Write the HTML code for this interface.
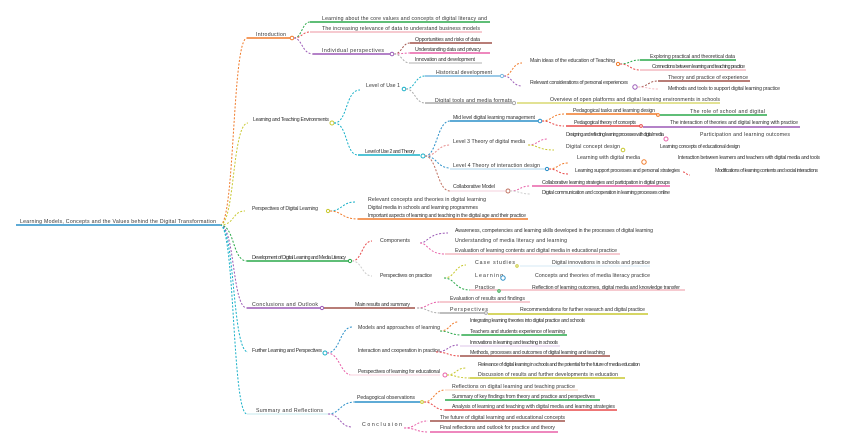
<!DOCTYPE html>
<html><head><meta charset="utf-8"><style>
html,body{margin:0;padding:0;background:#fff;width:848px;height:448px;overflow:hidden}
svg text{font-family:"Liberation Sans",sans-serif;font-size:5.2px;fill:#333}
.c{fill:none;stroke-dasharray:2 1.6;stroke-width:1}
.u{stroke-width:1.6;fill:none}
.o{fill:#fff;stroke-width:1}
</style></head><body>
<svg width="848" height="448" viewBox="0 0 848 448" xmlns="http://www.w3.org/2000/svg">
<!-- root -->
<text x="20" y="223" textLength="196">Learning Models, Concepts and the Values behind the Digital Transformation</text>
<line class="u" x1="16" y1="225" x2="220" y2="225" stroke="#2a8fc8"/>
<!-- root connectors -->
<path class="c" d="M220 225 C235 225,232 38,247 38" stroke="#f07a2a" stroke-width="1.6" stroke-dasharray="4 3"/>
<path class="c" d="M220 225 C235 225,232 123,248 123" stroke="#c8c830"/>
<path class="c" d="M220 225 C235 225,232 211,245 211" stroke="#c8c830"/>
<path class="c" d="M220 225 C235 225,232 261,247 261" stroke="#2aa84a"/>
<path class="c" d="M220 225 C235 225,232 308,247 308" stroke="#9b59b6"/>
<path class="c" d="M220 225 C235 225,232 352,248 352" stroke="#18b0c8"/>
<path class="c" d="M220 225 C235 225,232 414,247 414" stroke="#18b0c8" stroke-width="1.6" stroke-dasharray="4 3"/>

<!-- Intro -->
<text x="256" y="36" textLength="30">Introduction</text>
<line class="u" x1="247" y1="38" x2="290" y2="38" stroke="#f07a2a"/>
<circle class="o" cx="292" cy="38" r="1.8" stroke="#f07a2a"/>
<path class="c" d="M294 38 C302 38,302 22,310 22" stroke="#2aa84a"/>
<path class="c" d="M294 38 C302 38,302 32,310 32" stroke="#e84a4a"/>
<path class="c" d="M294 38 C302 38,302 54,313 54" stroke="#9b59b6"/>
<text x="322" y="20" textLength="165">Learning about the core values and concepts of digital literacy and</text>
<line class="u" x1="310" y1="22" x2="490" y2="22" stroke="#2aa84a"/>
<text x="322" y="30" textLength="158">The increasing relevance of data to understand business models</text>
<line class="u" x1="310" y1="32" x2="482" y2="32" stroke="#f4b8c0"/>
<text x="322" y="52" textLength="62">Individual perspectives</text>
<line class="u" x1="313" y1="54" x2="390" y2="54" stroke="#9b59b6"/>
<circle class="o" cx="392" cy="54" r="1.8" stroke="#9b59b6"/>
<path class="c" d="M394 54 C402 54,402 43,410 43" stroke="#a0524a"/>
<path class="c" d="M394 54 C402 54,402 53,410 53" stroke="#e860a8"/>
<path class="c" d="M394 54 C402 54,402 63,410 63" stroke="#aaa"/>
<text x="415" y="41" textLength="65">Opportunities and risks of data</text>
<line class="u" x1="410" y1="43" x2="492" y2="43" stroke="#a0524a"/>
<text x="415" y="51" textLength="66">Understanding data and privacy</text>
<line class="u" x1="410" y1="53" x2="490" y2="53" stroke="#e860a8"/>
<text x="415" y="61" textLength="60">Innovation and development</text>
<line class="u" x1="410" y1="63" x2="482" y2="63" stroke="#ccc"/>

<!-- Branch 2 -->
<text x="253" y="121" textLength="76">Learning and Teaching Environments</text>
<circle class="o" cx="332" cy="123" r="2" stroke="#c8c830"/>
<path class="c" d="M334 123 C348 123,345 90,360 90" stroke="#18b0c8"/>
<path class="c" d="M334 123 C348 123,345 155,358 155" stroke="#18b0c8"/>
<text x="366" y="87" textLength="34">Level of Use 1</text>
<circle class="o" cx="404" cy="89" r="1.8" stroke="#18b0c8"/>
<path class="c" d="M406 89 C415 89,415 76,425 76" stroke="#18b0c8"/>
<path class="c" d="M406 89 C415 89,415 103,425 103" stroke="#aaa"/>
<text x="436" y="74" textLength="56">Historical development</text>
<line class="u" x1="425" y1="76" x2="500" y2="76" stroke="#7ab8e0"/>
<circle class="o" cx="502" cy="76" r="1.6" stroke="#7ab8e0"/>
<path class="c" d="M504 76 C512 76,512 63,522 63" stroke="#f07a2a"/>
<path class="c" d="M504 76 C512 76,512 86,522 86" stroke="#9b59b6"/>
<text x="530" y="62" textLength="85">Main ideas of the education of Teaching</text>
<circle class="o" cx="618" cy="64" r="1.6" stroke="#f07a2a"/>
<path class="c" d="M620 64 C630 64,630 60,640 60" stroke="#2aa84a"/>
<path class="c" d="M620 64 C630 64,630 70,640 70" stroke="#e84a4a"/>
<text x="650" y="58" textLength="85">Exploring practical and theoretical data</text>
<line class="u" x1="640" y1="60" x2="736" y2="60" stroke="#2aa84a"/>
<text x="652" y="68" textLength="93">Connections between learning and teaching practice</text>
<line class="u" x1="640" y1="70" x2="746" y2="70" stroke="#f4b8c0"/>
<text x="530" y="84" textLength="98">Relevant considerations of personal experiences</text>
<circle class="o" cx="635" cy="87" r="2.2" stroke="#9b59b6"/>
<path class="c" d="M638 87 C648 87,648 81,658 81" stroke="#a0524a"/>
<path class="c" d="M638 87 C648 87,648 89,658 89" stroke="#f4b8c0"/>
<text x="668" y="79" textLength="80">Theory and practice of experience</text>
<line class="u" x1="658" y1="81" x2="750" y2="81" stroke="#a0524a"/>
<text x="668" y="90" textLength="112">Methods and tools to support digital learning practice</text>
<text x="435" y="102" textLength="77">Digital tools and media formats</text>
<line class="u" x1="425" y1="103" x2="512" y2="103" stroke="#aaa"/>
<circle class="o" cx="514" cy="103" r="1.6" stroke="#aaa"/>
<text x="550" y="101" textLength="170">Overview of open platforms and digital learning environments in schools</text>
<line class="u" x1="517" y1="103" x2="720" y2="103" stroke="#d8d870"/>

<text x="365" y="153" textLength="50">Level of Use 2 and Theory</text>
<line class="u" x1="358" y1="155" x2="420" y2="155" stroke="#18b0c8"/>
<circle class="o" cx="423" cy="156" r="2" stroke="#18b0c8"/>
<path class="c" d="M425 156 C437 156,437 121,450 121" stroke="#2a8fc8"/>
<path class="c" d="M425 156 C437 156,437 145,450 145" stroke="#e89090"/>
<path class="c" d="M425 156 C437 156,437 168,450 168" stroke="#2a8fc8"/>
<path class="c" d="M425 156 C437 156,437 191,450 191" stroke="#c07060"/>
<text x="453" y="119" textLength="82">Mid level digital learning management</text>
<line class="u" x1="450" y1="121" x2="538" y2="121" stroke="#2a8fc8"/>
<circle class="o" cx="540" cy="121" r="1.8" stroke="#2a8fc8"/>
<path class="c" d="M542 121 C552 121,552 114,564 114" stroke="#f07a2a"/>
<path class="c" d="M542 121 C552 121,552 126,564 126" stroke="#e84a4a"/>
<text x="573" y="112" textLength="82">Pedagogical tasks and learning design</text>
<line class="u" x1="566" y1="114" x2="657" y2="114" stroke="#f07a2a"/>
<circle class="o" cx="658" cy="115" r="1.4" stroke="#f07a2a"/>
<text x="690" y="113" textLength="75">The role of school and digital</text>
<line class="u" x1="660" y1="115" x2="767" y2="115" stroke="#2aa84a"/>
<text x="574" y="124" textLength="62">Pedagogical theory of concepts</text>
<line class="u" x1="566" y1="126" x2="640" y2="126" stroke="#e84a4a"/>
<circle class="o" cx="641" cy="126" r="1.4" stroke="#e84a4a"/>
<text x="670" y="124" textLength="128">The interaction of theories and digital learning with practice</text>
<line class="u" x1="643" y1="127" x2="800" y2="127" stroke="#9b59b6"/>
<text x="566" y="136" textLength="98">Designing and reflecting learning processes with digital media</text>
<circle class="o" cx="666" cy="139" r="2" stroke="#e860a8"/>
<text x="700" y="136" textLength="90">Participation and learning outcomes</text>
<text x="453" y="143" textLength="72">Level 3 Theory of digital media</text>
<path class="c" d="M528 145 C538 145,538 139,548 139" stroke="#e860a8"/>
<path class="c" d="M528 145 C538 145,538 150,554 150" stroke="#c8c830"/>
<text x="566" y="148" textLength="54">Digital concept design</text>
<circle class="o" cx="623" cy="150" r="1.8" stroke="#c8c830"/>
<text x="660" y="148" textLength="80">Learning concepts of educational design</text>
<text x="453" y="167" textLength="87">Level 4 Theory of interaction design</text>
<line class="u" x1="450" y1="169" x2="545" y2="169" stroke="#c8e4f4"/>
<circle class="o" cx="547" cy="169" r="1.6" stroke="#2a8fc8"/>
<path class="c" d="M549 169 C558 169,558 163,568 163" stroke="#f07a2a"/>
<path class="c" d="M549 169 C558 169,558 174,568 174" stroke="#e84a4a"/>
<text x="577" y="159" textLength="63">Learning with digital media</text>
<circle class="o" cx="644" cy="162" r="2.2" stroke="#f07a2a"/>
<text x="678" y="159" textLength="142">Interaction between learners and teachers with digital media and tools</text>
<text x="575" y="172" textLength="105">Learning support processes and personal strategies</text>
<path class="c" d="M683 172 C686 172,686 175,690 175" stroke="#e84a4a"/>
<text x="715" y="172" textLength="103">Modifications of learning contents and social interactions</text>
<text x="453" y="188" textLength="42">Collaborative Model</text>
<line class="u" x1="450" y1="191" x2="505" y2="191" stroke="#f8e0e8"/>
<circle class="o" cx="508" cy="191" r="2" stroke="#c07060"/>
<path class="c" d="M510 191 C520 191,520 186,530 186" stroke="#e860a8"/>
<path class="c" d="M510 191 C520 191,520 194,530 194" stroke="#ccc"/>
<text x="542" y="184" textLength="128">Collaborative learning strategies and participation in digital groups</text>
<line class="u" x1="532" y1="186" x2="670" y2="186" stroke="#e860a8"/>
<text x="542" y="194" textLength="128">Digital communication and cooperation in learning processes online</text>

<!-- Perspectives -->
<text x="252" y="210" textLength="66">Perspectives of Digital Learning</text>
<circle class="o" cx="328" cy="211" r="1.6" stroke="#c8c830"/>
<path class="c" d="M330 211 C342 211,342 202,355 202" stroke="#18b0c8"/>
<path class="c" d="M330 211 C342 211,342 219,358 219" stroke="#f07a2a"/>
<text x="368" y="201" textLength="118">Relevant concepts and theories in digital learning</text>
<text x="368" y="209" textLength="110">Digital media in schools and learning programmes</text>
<text x="368" y="217" textLength="158">Important aspects of learning and teaching in the digital age and their practice</text>
<line class="u" x1="358" y1="219" x2="528" y2="219" stroke="#f07a2a"/>

<!-- Development -->
<text x="252" y="259" textLength="94">Development of Digital Learning and Media Literacy</text>
<line class="u" x1="247" y1="261" x2="348" y2="261" stroke="#2aa84a"/>
<circle class="o" cx="350" cy="261" r="1.6" stroke="#2aa84a"/>
<path class="c" d="M352 261 C362 261,362 241,372 241" stroke="#e84a4a"/>
<path class="c" d="M352 261 C362 261,362 276,372 276" stroke="#ccc"/>
<text x="380" y="242" textLength="30">Components</text>
<path class="c" d="M420 243 C428 243,428 233,448 233" stroke="#9b59b6"/>
<path class="c" d="M420 243 C428 243,428 254,445 254" stroke="#e860a8"/>
<text x="455" y="232" textLength="198">Awareness, competencies and learning skills developed in the processes of digital learning</text>
<text x="455" y="242" textLength="112">Understanding of media literacy and learning</text>
<text x="455" y="252" textLength="162">Evaluation of learning contents and digital media in educational practice</text>
<line class="u" x1="445" y1="254" x2="620" y2="254" stroke="#f4b8c0"/>
<text x="380" y="277" textLength="52">Perspectives on practice</text>
<path class="c" d="M444 278 C455 278,455 265,466 265" stroke="#c8c830"/>
<path class="c" d="M444 278 C455 278,455 290,470 290" stroke="#2aa84a"/>
<text x="475" y="264" textLength="40">Case studies</text>
<line class="u" x1="520" y1="266" x2="650" y2="266" stroke="#e4f0f8"/>
<circle class="o" cx="517" cy="266" r="1.2" stroke="#c8c830"/>
<text x="552" y="264" textLength="98">Digital innovations in schools and practice</text>
<text x="475" y="277" textLength="28">Learning</text>
<circle class="o" cx="503" cy="278" r="2.2" stroke="#2a8fc8"/>
<text x="535" y="277" textLength="115">Concepts and theories of media literacy practice</text>
<text x="475" y="289" textLength="20">Practice</text>
<line class="u" x1="470" y1="290" x2="685" y2="290" stroke="#f4b8c0"/>
<circle class="o" cx="499" cy="291" r="1.2" stroke="#2aa84a"/>
<text x="532" y="289" textLength="148">Reflection of learning outcomes, digital media and knowledge transfer</text>

<!-- Conclusions -->
<text x="252" y="306" textLength="66">Conclusions and Outlook</text>
<line class="u" x1="247" y1="308" x2="320" y2="308" stroke="#9b59b6"/>
<circle class="o" cx="322" cy="308" r="1.6" stroke="#9b59b6"/>
<line class="u" x1="324" y1="308" x2="415" y2="308" stroke="#a0524a"/>
<text x="355" y="306" textLength="55">Main results and summary</text>
<path class="c" d="M417 308 C428 308,428 302,440 302" stroke="#e860a8"/>
<path class="c" d="M417 308 C428 308,428 313,440 313" stroke="#aaa"/>
<text x="450" y="300" textLength="75">Evaluation of results and findings</text>
<line class="u" x1="440" y1="302" x2="530" y2="302" stroke="#f4b8c0"/>
<text x="450" y="311" textLength="38">Perspectives</text>
<line class="u" x1="440" y1="313" x2="485" y2="313" stroke="#aaa"/>
<circle class="o" cx="486" cy="313" r="1.4" stroke="#aaa"/>
<text x="520" y="311" textLength="125">Recommendations for further research and digital practice</text>
<line class="u" x1="488" y1="314" x2="648" y2="314" stroke="#c8c830"/>

<!-- Something Mind -->
<text x="252" y="352" textLength="70">Further Learning and Perspectives</text>
<circle class="o" cx="325" cy="353" r="2" stroke="#18b0c8"/>
<path class="c" d="M327 353 C340 353,340 327,352 327" stroke="#2a8fc8"/>
<path class="c" d="M327 353 C340 353,340 375,352 375" stroke="#e860a8"/>
<text x="358" y="329" textLength="82">Models and approaches of learning</text>
<path class="c" d="M440 331 C450 331,450 322,458 322" stroke="#f07a2a"/>
<path class="c" d="M440 331 C450 331,450 335,462 335" stroke="#2aa84a"/>
<text x="470" y="322" textLength="115">Integrating learning theories into digital practice and schools</text>
<text x="470" y="333" textLength="95">Teachers and students experience of learning</text>
<line class="u" x1="462" y1="335" x2="567" y2="335" stroke="#2aa84a"/>
<text x="358" y="352" textLength="82">Interaction and cooperation in practice</text>
<path class="c" d="M436 352 C448 352,448 345,458 345" stroke="#9b59b6"/>
<path class="c" d="M436 352 C448 352,448 356,460 356" stroke="#e84a4a"/>
<text x="470" y="344" textLength="88">Innovations in learning and teaching in schools</text>
<line class="u" x1="460" y1="346" x2="560" y2="346" stroke="#e8d8f0"/>
<text x="470" y="354" textLength="135">Methods, processes and outcomes of digital learning and teaching</text>
<line class="u" x1="460" y1="356" x2="610" y2="356" stroke="#a0524a"/>
<text x="358" y="373" textLength="82">Perspectives of learning for educational</text>
<line class="u" x1="350" y1="375" x2="440" y2="375" stroke="#fce0e8"/>
<circle class="o" cx="445" cy="375" r="2" stroke="#e860a8"/>
<path class="c" d="M447 375 C456 375,456 368,466 368" stroke="#c8c830"/>
<path class="c" d="M447 375 C456 375,456 378,470 378" stroke="#c8c830"/>
<text x="478" y="366" textLength="162">Relevance of digital learning in schools and the potential for the future of media education</text>
<text x="478" y="376" textLength="140">Discussion of results and further developments in education</text>
<line class="u" x1="470" y1="378" x2="625" y2="378" stroke="#c8c830"/>

<!-- Summary -->
<text x="256" y="412" textLength="67">Summary and Reflections</text>
<line class="u" x1="247" y1="414" x2="328" y2="414" stroke="#d8f0f4"/>
<path class="c" d="M328 414 C340 414,340 402,355 402" stroke="#2a8fc8"/>
<path class="c" d="M328 414 C340 414,340 427,352 427" stroke="#9b59b6"/>
<text x="357" y="399" textLength="58">Pedagogical observations</text>
<line class="u" x1="355" y1="402" x2="420" y2="402" stroke="#2a8fc8"/>
<circle class="o" cx="422" cy="402" r="1.4" stroke="#c8c830"/>
<path class="c" d="M424 402 C434 402,434 390,445 390" stroke="#f07a2a"/>
<path class="c" d="M424 402 C434 402,434 410,445 410" stroke="#e84a4a"/>
<text x="452" y="388" textLength="123">Reflections on digital learning and teaching practice</text>
<line class="u" x1="445" y1="390" x2="578" y2="390" stroke="#fce0d0"/>
<text x="452" y="398" textLength="143">Summary of key findings from theory and practice and perspectives</text>
<line class="u" x1="445" y1="400" x2="600" y2="400" stroke="#2aa84a"/>
<text x="452" y="408" textLength="163">Analysis of learning and teaching with digital media and learning strategies</text>
<line class="u" x1="445" y1="410" x2="617" y2="410" stroke="#e84a4a"/>
<text x="362" y="426" textLength="40">Conclusion</text>
<path class="c" d="M404 428 C416 428,416 421,428 421" stroke="#e860a8"/>
<path class="c" d="M404 428 C416 428,416 432,428 432" stroke="#e860a8"/>
<text x="440" y="419" textLength="125">The future of digital learning and educational concepts</text>
<line class="u" x1="430" y1="421" x2="565" y2="421" stroke="#a0524a"/>
<text x="440" y="429" textLength="115">Final reflections and outlook for practice and theory</text>
<line class="u" x1="430" y1="432" x2="558" y2="432" stroke="#e860a8"/>
</svg>
</body></html>
